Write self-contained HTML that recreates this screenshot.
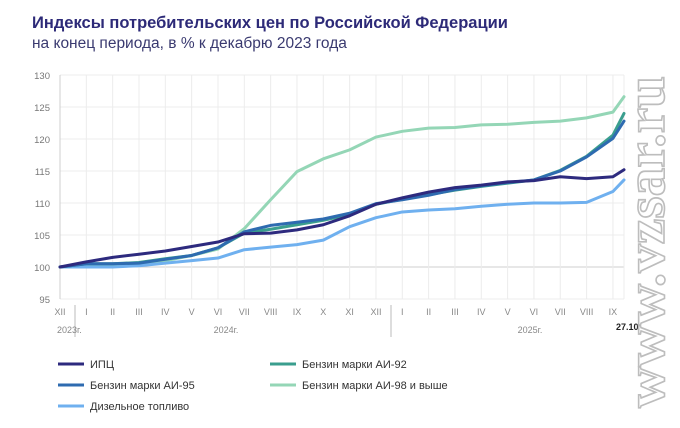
<!DOCTYPE html>
<html><head><meta charset="utf-8"><style>
body{margin:0;background:#fff;width:680px;height:423px;overflow:hidden;font-family:"Liberation Sans",sans-serif}
</style></head><body>
<svg id="s" width="680" height="423" xmlns="http://www.w3.org/2000/svg" font-family="Liberation Sans, sans-serif">
<text x="32" y="28" font-size="16.5" font-weight="bold" fill="#2d2a78">Индексы потребительских цен по Российской Федерации</text>
<text x="32" y="48" font-size="15.5" fill="#3a3a70">на конец периода, в % к декабрю 2023 года</text>
<g id="g"></g>
<text transform="translate(664,408) rotate(-90)" font-family="Liberation Serif, serif" font-size="55" font-weight="bold" fill="#fff" stroke="#bdbdbd" stroke-width="1.6" textLength="332" lengthAdjust="spacingAndGlyphs">www.vzsar.ru</text>
</svg>
<script>
var g=document.getElementById('g'),h='';
function X(i){return 60+i*26.33}function Y(v){return 267-(v-100)*6.4}
for(var v=95;v<=130;v+=5){h+='<line x1="60" x2="624" y1="'+Y(v)+'" y2="'+Y(v)+'" stroke="'+(v==100?'#cfcfcf':'#ececec')+'"/>';
h+='<text x="50" y="'+(Y(v)+4)+'" font-size="9.5" fill="#777" text-anchor="end">'+v+'</text>';}
var m=['XII','I','II','III','IV','V','VI','VII','VIII','IX','X','XI','XII','I','II','III','IV','V','VI','VII','VIII','IX'];
for(var i=0;i<22;i++){h+='<line x1="'+X(i)+'" x2="'+X(i)+'" y1="75" y2="299" stroke="'+(i==0?'#cfcfcf':'#ececec')+'"/>';
h+='<text x="'+X(i)+'" y="315" font-size="9" fill="#888" text-anchor="middle">'+m[i]+'</text>';}
h+='<line x1="624" x2="624" y1="75" y2="299" stroke="#ececec"/>';
h+='<line x1="75" x2="75" y1="305" y2="337" stroke="#bbb"/><line x1="391" x2="391" y1="305" y2="337" stroke="#bbb"/>';
h+='<text x="57" y="333" font-size="9" fill="#888">2023г.</text><text x="226" y="333" font-size="9" fill="#888" text-anchor="middle">2024г.</text><text x="530" y="333" font-size="9" fill="#888" text-anchor="middle">2025г.</text><text x="616" y="330" font-size="9" font-weight="bold" fill="#222">27.10</text>';
var S=[
['#94d6b6',[100,100.2,100.2,100.5,101,101.8,102.8,106,110.5,114.9,116.9,118.3,120.3,121.2,121.7,121.8,122.2,122.3,122.6,122.8,123.3,124.2,126.6]],
['#6fb0ef',[100,100,100,100.2,100.6,101,101.4,102.7,103.1,103.5,104.2,106.3,107.7,108.6,108.9,109.1,109.5,109.8,110,110,110.1,111.8,113.6]],
['#3a9e8e',[100,100.5,100.5,100.7,101.3,101.8,103,105.3,105.9,106.6,107.3,108.2,109.8,110.6,111.3,112,112.6,113.1,113.6,115.1,117.3,120.6,124]],
['#2e6bb0',[100,100.5,100.5,100.6,101.2,101.8,103,105.5,106.5,107,107.5,108.4,109.9,110.5,111.2,112.1,112.7,113.2,113.6,115,117.2,120.1,122.8]],
['#2d2a7e',[100,100.8,101.5,102,102.5,103.2,103.9,105.2,105.3,105.8,106.6,108,109.8,110.8,111.7,112.4,112.8,113.3,113.5,114.1,113.8,114.1,115.2]]];
S.forEach(function(s){var p=s[1].map(function(v,i){return (i<22?X(i):624)+','+Y(v)}).join(' ');
h+='<polyline points="'+p+'" fill="none" stroke="'+s[0]+'" stroke-width="3" stroke-linejoin="round" stroke-linecap="round"/>';});
var L=[['#2d2a7e','ИПЦ',58,364],['#2e6bb0','Бензин марки АИ-95',58,385],['#6fb0ef','Дизельное топливо',58,406],['#3a9e8e','Бензин марки АИ-92',270,364],['#94d6b6','Бензин марки АИ-98 и выше',270,385]];
L.forEach(function(l){h+='<line x1="'+l[2]+'" x2="'+(l[2]+26)+'" y1="'+l[3]+'" y2="'+l[3]+'" stroke="'+l[0]+'" stroke-width="3"/><text x="'+(l[2]+32)+'" y="'+(l[3]+4)+'" font-size="11" fill="#333">'+l[1]+'</text>';});
g.innerHTML=h;
</script>
</body></html>
